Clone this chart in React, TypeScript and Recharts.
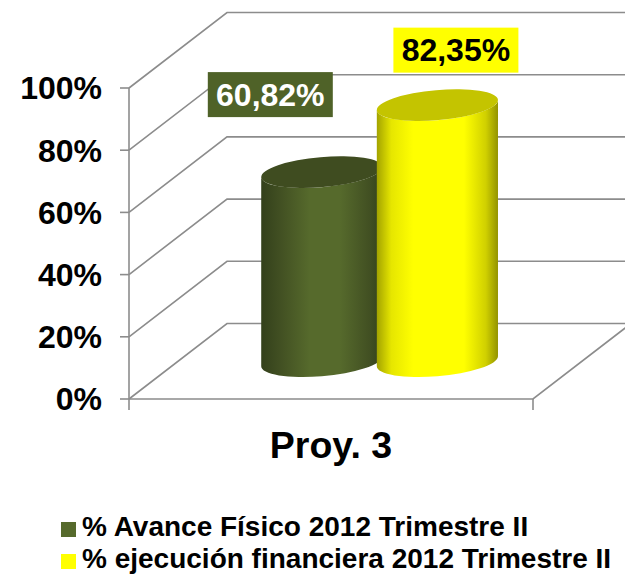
import { BarChart, Bar, XAxis, YAxis, CartesianGrid, Legend, LabelList } from 'recharts';

const categories = ['Proy. 3'];
const avanceFisico = [60.82];
const ejecucionFinanciera = [82.35];
const yTicks = [0, 20, 40, 60, 80, 100];
const avanceName = '% Avance Físico 2012 Trimestre II';
const ejecucionName = '% ejecución financiera 2012 Trimestre II';

const data = categories.map((name, i) => ({
  name,
  avance: avanceFisico[i],
  ejecucion: ejecucionFinanciera[i],
}));

const FONT = '"Liberation Sans", Arial, sans-serif';
const AXIS = '#8c8c8c';
// depth of the fake 3d box
const DX = 98;
const DY = 75.5;

// draws one gridline as a wall + floor polyline
const wallLine = (p: any) => {
  const { x1, x2, y1, index } = p;
  const isFloor = Math.abs(y1 - 399) < 1;
  return (
    <g key={index} fill="none" stroke={AXIS} strokeWidth={1.6}>
      <polyline points={`${x1},${y1} ${x1 + DX},${y1 - DY} ${x2 + DX},${y1 - DY}`} />
      {isFloor && <polyline points={`${x2 + DX},${y1 - DY} ${x2},${y1} ${x1},${y1}`} />}
      {isFloor && <line x1={x1} x2={x1} y1={y1} y2={y1 + 11} />}
      {isFloor && <line x1={x2} x2={x2} y1={y1} y2={y1 + 11} />}
    </g>
  );
};

const Cylinder = (p: any) => {
  const { x, y, width, height, body, top } = p;
  const rx = width / 2;
  const ry = 15;
  const rot = (5 * Math.PI) / 180;
  const ex = Math.sqrt(rx * rx * Math.cos(rot) ** 2 + ry * ry * Math.sin(rot) ** 2);
  const lift = ((rx * rx - ry * ry) * Math.sin(rot) * Math.cos(rot)) / ex;
  const cx = x + rx + DX / 2;
  const yTop = y - DY / 2;
  const yBase = y + height - DY / 2;
  const d = `M${cx - ex},${yTop + lift} L${cx - ex},${yBase + lift} A${rx},${ry} -5 0 0 ${cx + ex},${yBase - lift} L${cx + ex},${yTop - lift} A${rx},${ry} -5 0 1 ${cx - ex},${yTop + lift} Z`;
  return (
    <g>
      <path d={d} fill={body} />
      <ellipse cx={cx} cy={yTop} rx={rx} ry={ry} fill={top} transform={`rotate(-5 ${cx} ${yTop})`} />
    </g>
  );
};

const valueLabel = (bg: string, color: string, dx: number, dy: number) => (p: any) => {
  const { x, y, width, value } = p;
  const cx = x + width / 2 + DX / 2 + dx;
  const cy = y - DY / 2 + dy;
  return (
    <g>
      <rect x={cx - 62.5} y={cy - 22.5} width={125} height={45} fill={bg} />
      <text x={cx} y={cy + 11} textAnchor="middle" fontFamily={FONT} fontWeight="bold" fontSize={32} fill={color}>
        {Number(value).toFixed(2).replace('.', ',')}%
      </text>
    </g>
  );
};

const LegendBox = (p: any) => (
  <div style={{ fontFamily: FONT, fontWeight: 'bold', fontSize: 28, lineHeight: '26px', color: '#000' }}>
    {p.payload.map((item: any) => (
      <div key={item.value} style={{ display: 'flex', alignItems: 'center', height: 26, marginBottom: 6, whiteSpace: 'nowrap' }}>
        <span style={{ width: 15, height: 15, background: item.color, marginRight: 6, position: 'relative', top: 2 }} />
        {item.value}
      </div>
    ))}
  </div>
);

export default function App() {
  return (
    <div style={{ position: 'absolute', left: 0, top: 0, width: 625, height: 575, overflow: 'hidden', background: '#fff' }}>
      <BarChart
        width={625}
        height={575}
        data={data}
        margin={{ top: 88, right: 92, bottom: 28, left: 0 }}
        barSize={121.6}
        barGap={-6}
      >
        <defs>
          <linearGradient id="greenBody" x1="0" x2="1" y1="0" y2="0">
            <stop offset="0" stopColor="#33401b" />
            <stop offset="0.15" stopColor="#414f22" />
            <stop offset="0.4" stopColor="#566a2c" />
            <stop offset="0.65" stopColor="#566a2c" />
            <stop offset="0.9" stopColor="#414f22" />
            <stop offset="1" stopColor="#33401b" />
          </linearGradient>
          <linearGradient id="yellowBody" x1="0" x2="1" y1="0" y2="0">
            <stop offset="0" stopColor="#a3a300" />
            <stop offset="0.12" stopColor="#e6e600" />
            <stop offset="0.3" stopColor="#ffff00" />
            <stop offset="0.72" stopColor="#ffff00" />
            <stop offset="0.9" stopColor="#d0d000" />
            <stop offset="1" stopColor="#939300" />
          </linearGradient>
        </defs>
        <CartesianGrid vertical={false} horizontal={wallLine} />
        <XAxis
          dataKey="name"
          axisLine={false}
          tickLine={false}
          height={88}
          tickMargin={26}
          tick={{ fontFamily: FONT, fontWeight: 'bold', fontSize: 37.5, fill: '#000' }}
        />
        <YAxis
          domain={[0, 100]}
          ticks={yTicks}
          width={129}
          tickSize={9}
          tickMargin={18}
          tickFormatter={(v: number) => `${v}%`}
          axisLine={{ stroke: AXIS, strokeWidth: 1.6 }}
          tickLine={{ stroke: AXIS, strokeWidth: 1.6 }}
          tick={{ fontFamily: FONT, fontWeight: 'bold', fontSize: 32, fill: '#000' }}
        />
        <Legend
          content={LegendBox}
          verticalAlign="bottom"
          height={60}
          wrapperStyle={{ left: 61, top: 514, bottom: 'auto', width: 560, height: 60 }}
        />
        <Bar
          dataKey="avance"
          name={avanceName}
          fill="#566a2c"
          isAnimationActive={false}
          shape={(p: any) => <Cylinder {...p} body="url(#greenBody)" top="#3f4c20" />}
        >
          <LabelList dataKey="avance" content={valueLabel('#4f6228', '#ffffff', -51.5, -77.5)} />
        </Bar>
        <Bar
          dataKey="ejecucion"
          name={ejecucionName}
          fill="#ffff00"
          isAnimationActive={false}
          shape={(p: any) => <Cylinder {...p} body="url(#yellowBody)" top="#c4c400" />}
        >
          <LabelList dataKey="ejecucion" content={valueLabel('#ffff00', '#000000', 18.5, -55)} />
        </Bar>
      </BarChart>
    </div>
  );
}
